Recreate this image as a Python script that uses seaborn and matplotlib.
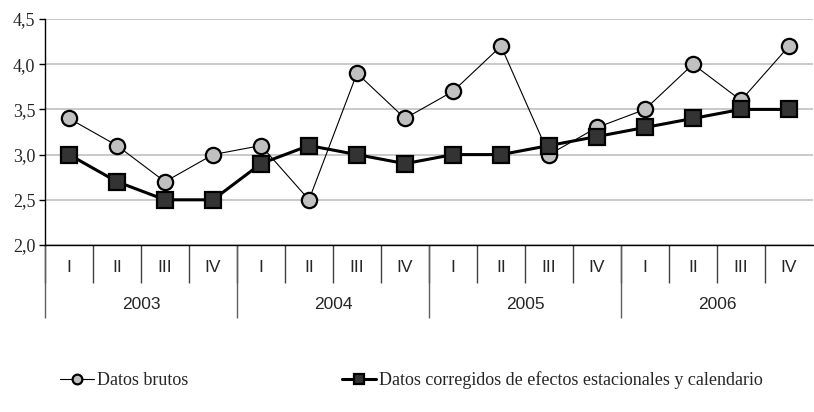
import matplotlib
matplotlib.use("Agg")
import matplotlib.pyplot as plt
import seaborn as sns
import numpy as np
import pandas as pd

years = ["2003", "2004", "2005", "2006"]
quarters = ["I", "II", "III", "IV"]
datos_brutos = [3.4, 3.1, 2.7, 3.0, 3.1, 2.5, 3.9, 3.4, 3.7, 4.2, 3.0, 3.3, 3.5, 4.0, 3.6, 4.2]
datos_corregidos = [3.0, 2.7, 2.5, 2.5, 2.9, 3.1, 3.0, 2.9, 3.0, 3.0, 3.1, 3.2, 3.3, 3.4, 3.5, 3.5]
label_brutos = "Datos brutos"
label_corr = "Datos corregidos de efectos estacionales y calendario"
y_ticks = [2.0, 2.5, 3.0, 3.5, 4.0, 4.5]

sns.set_style("white")
plt.rcParams['font.family'] = ['Liberation Serif', 'DejaVu Serif']

W, H = 814, 412
fig = plt.figure(figsize=(W / 100, H / 100), dpi=100)
ax = fig.add_axes([45 / W, 1 - 245 / H, (813 - 45) / W, (245 - 19) / H])

n = len(datos_brutos)
x = np.arange(n)
df = pd.DataFrame({"x": x, "brutos": datos_brutos, "corr": datos_corregidos})

sns.lineplot(data=df, x="x", y="brutos", ax=ax, color="black", linewidth=0.8,
             marker="o", markersize=11, markerfacecolor="#c0c0c0",
             markeredgecolor="black", markeredgewidth=1.6, label=label_brutos, zorder=3)
sns.lineplot(data=df, x="x", y="corr", ax=ax, color="black", linewidth=2.2,
             marker="s", markersize=11, markerfacecolor="#333333",
             markeredgecolor="black", markeredgewidth=1.6, label=label_corr, zorder=4)

ax.set_xlim(-0.5, n - 0.5)
ax.set_ylim(y_ticks[0], y_ticks[-1])
ax.set_yticks(y_ticks)
ax.set_yticklabels([f"{v:.1f}".replace(".", ",") for v in y_ticks], fontsize=13)
ax.tick_params(axis="y", length=4, width=1, color="black", pad=3, left=True)
ax.yaxis.grid(True, color="#c0c0c0", linewidth=1.2)
ax.set_axisbelow(True)
for s in ["top", "right"]:
    ax.spines[s].set_visible(False)
for s in ["left", "bottom"]:
    ax.spines[s].set_color("black")
    ax.spines[s].set_linewidth(1)

ax.set_xticks(x)
ax.set_xticklabels([quarters[i % 4] for i in x], fontsize=12.5, family="Liberation Sans")
ax.tick_params(axis="x", which="major", length=0, pad=11)
bounds = np.arange(n) - 0.5
ax.set_xticks(bounds, minor=True)
ax.tick_params(axis="x", which="minor", length=27, width=1, color="#404040", bottom=True)
ax.set_xlabel("")
ax.set_ylabel("")

trans = ax.get_xaxis_transform()
year_bounds = np.arange(0, n, 4) - 0.5
ax.vlines(year_bounds, -0.323, 0, transform=trans, colors="#606060", linewidth=1, clip_on=False)
for i, yr in enumerate(years):
    ax.text(i * 4 + 1.5, -0.265, yr, transform=trans, ha="center", va="center",
            fontsize=12.5, family="Liberation Sans")

ax.get_legend().remove()
handles, labels = ax.get_legend_handles_labels()
leg = fig.legend(handles, labels, loc="center", bbox_to_anchor=(0.505, 1 - 380 / H), ncol=2,
                 frameon=False, fontsize=13, handlelength=1.9, columnspacing=8.5, handletextpad=0.15)
for h in leg.legend_handles:
    h.set_markersize(7)

fig.savefig("out.png", dpi=100)
